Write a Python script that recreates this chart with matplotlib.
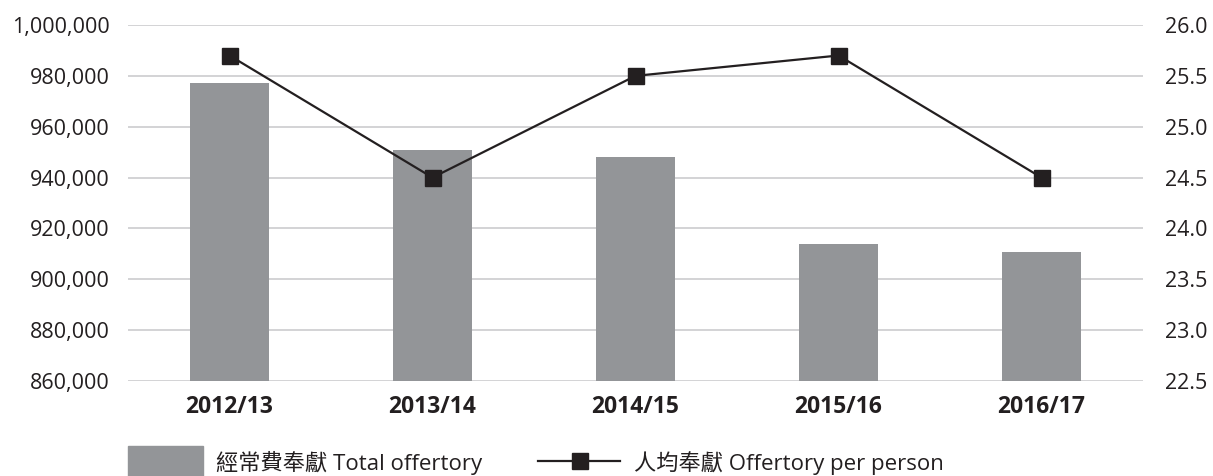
import matplotlib
matplotlib.use("Agg")
import matplotlib.pyplot as plt
from matplotlib.patches import Rectangle
from matplotlib.lines import Line2D
from matplotlib.ticker import FuncFormatter, MultipleLocator
import numpy as np

plt.rcParams['font.family'] = ['Open Sans', 'Noto Sans CJK TC', 'DejaVu Sans']

categories = ["2012/13", "2013/14", "2014/15", "2015/16", "2016/17"]
total_offertory = [977000, 950800, 948000, 914000, 910800]
per_person = [25.7, 24.5, 25.5, 25.7, 24.5]
bar_label = "經常費奉獻 Total offertory"
line_label = "人均奉獻 Offertory per person"

bar_color = "#939598"
line_color = "#231f20"
grid_color = "#c8c8ca"
text_color = "#231f20"
fs = 15.5

fig = plt.figure(figsize=(12.13, 4.76), dpi=100)
ax = fig.add_axes([128/1213, 1-381/476, (1143-128)/1213, (381-25)/476])
x = np.arange(len(categories))

ax.bar(x, total_offertory, width=0.385, color=bar_color, zorder=2)
ax.set_ylim(860000, 1000000)
ax.set_xlim(-0.5, len(categories)-0.5)
ax.yaxis.set_major_locator(MultipleLocator(20000))
ax.yaxis.set_major_formatter(FuncFormatter(lambda v, p: f"{int(v):,}"))
ax.grid(axis='y', color=grid_color, linewidth=1.1, zorder=0)
ax.set_axisbelow(True)
for s in ax.spines.values():
    s.set_visible(False)
ax.set_xticks(x)
ax.set_xticklabels(categories, fontweight='bold')
ax.tick_params(axis='x', length=0, pad=10, labelsize=16.5, labelcolor=text_color)
ax.tick_params(axis='y', length=0, pad=13, labelsize=fs, labelcolor=text_color)

ax2 = ax.twinx()
ax2.plot(x, per_person, color=line_color, linewidth=1.6, marker='s', markersize=12, zorder=3)
ax2.set_ylim(22.5, 26.0)
ax2.yaxis.set_major_locator(MultipleLocator(0.5))
ax2.yaxis.set_major_formatter(FuncFormatter(lambda v, p: f"{v:.1f}"))
for s in ax2.spines.values():
    s.set_visible(False)
ax2.tick_params(axis='y', length=0, pad=16, labelsize=fs, labelcolor=text_color)

# legend (manual, figure coords)
lfs = 16
fig.patches.append(Rectangle((128/1213, 0), 75/1213, 30/476, transform=fig.transFigure,
                             color=bar_color, figure=fig))
fig.text(216/1213, 1-463/476, bar_label, fontsize=lfs, color=text_color, va='center', ha='left')
fig.lines.append(Line2D([538/1213, 620/1213], [1-461/476]*2, transform=fig.transFigure,
                        color=line_color, linewidth=1.6, figure=fig))
fig.lines.append(Line2D([580/1213], [1-461/476], transform=fig.transFigure, marker='s',
                        markersize=12, color=line_color, figure=fig))
fig.text(634/1213, 1-463/476, line_label, fontsize=lfs, color=text_color, va='center', ha='left')

fig.savefig("out.png", dpi=100)
